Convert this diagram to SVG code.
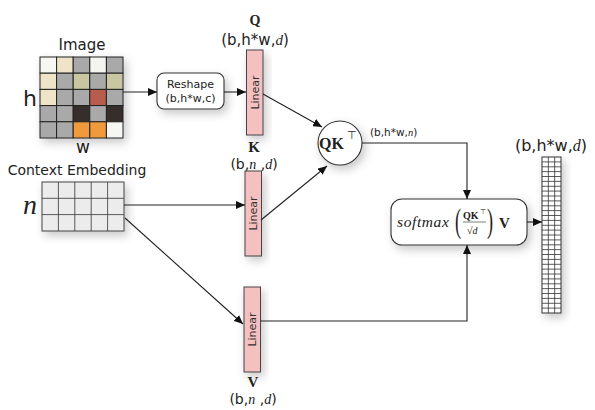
<svg xmlns="http://www.w3.org/2000/svg" width="595" height="410" viewBox="0 0 595 410">
<style>
.sans{font-family:"DejaVu Sans","Liberation Sans",sans-serif;fill:#222}
.serif{font-family:"Liberation Serif","DejaVu Serif",serif;fill:#222}
.it{font-style:italic}
.bold{font-weight:bold}
.bar{fill:#f4c0c0;stroke:#444;stroke-width:1}
.lin{font-family:"DejaVu Sans","Liberation Sans",sans-serif;font-size:11px;fill:#333}
.conn{fill:none;stroke:#222;stroke-width:1.1}
.box{fill:#fff;stroke:#333;stroke-width:1.1}
.grid{fill:none;stroke:#333;stroke-width:0.8}
</style>
<defs>
<marker id="ah" markerWidth="9" markerHeight="8" refX="9" refY="4" orient="auto" markerUnits="userSpaceOnUse">
<path d="M0,0 L9,4 L0,8 z" fill="#111"/>
</marker>
<filter id="sh" x="-50%" y="-50%" width="200%" height="200%">
<feDropShadow dx="3" dy="4" stdDeviation="5" flood-color="#000" flood-opacity="0.22"/>
</filter>
</defs>
<rect width="595" height="410" fill="#fff"/>

<g id="image">
<text class="sans" x="82" y="50" font-size="15" text-anchor="middle">Image</text>
<text class="sans" x="30" y="106" font-size="22" text-anchor="middle">h</text>
<text class="sans" x="83" y="153" font-size="17" text-anchor="middle">w</text>
<g filter="url(#sh)" stroke="#222" stroke-width="1">
<rect x="40" y="57" width="16.6" height="16.2" fill="#f6f6f3"/>
<rect x="56.6" y="57" width="16.6" height="16.2" fill="#efe4c8"/>
<rect x="73.2" y="57" width="16.6" height="16.2" fill="#a9a9a9"/>
<rect x="89.8" y="57" width="16.6" height="16.2" fill="#f4f4f1"/>
<rect x="106.4" y="57" width="16.6" height="16.2" fill="#a9a9a9"/>
<rect x="40" y="73.2" width="16.6" height="16.2" fill="#efe3c8"/>
<rect x="56.6" y="73.2" width="16.6" height="16.2" fill="#a9a9a9"/>
<rect x="73.2" y="73.2" width="16.6" height="16.2" fill="#c8c7a2"/>
<rect x="89.8" y="73.2" width="16.6" height="16.2" fill="#a9a9a9"/>
<rect x="106.4" y="73.2" width="16.6" height="16.2" fill="#c8c7a2"/>
<rect x="40" y="89.4" width="16.6" height="16.2" fill="#efe3c8"/>
<rect x="56.6" y="89.4" width="16.6" height="16.2" fill="#a9a9a9"/>
<rect x="73.2" y="89.4" width="16.6" height="16.2" fill="#a9a9a9"/>
<rect x="89.8" y="89.4" width="16.6" height="16.2" fill="#b85c4e"/>
<rect x="106.4" y="89.4" width="16.6" height="16.2" fill="#a9a9a9"/>
<rect x="40" y="105.6" width="16.6" height="16.2" fill="#a9a9a9"/>
<rect x="56.6" y="105.6" width="16.6" height="16.2" fill="#a9a9a9"/>
<rect x="73.2" y="105.6" width="16.6" height="16.2" fill="#342f29"/>
<rect x="89.8" y="105.6" width="16.6" height="16.2" fill="#a9a9a9"/>
<rect x="106.4" y="105.6" width="16.6" height="16.2" fill="#342f29"/>
<rect x="40" y="121.8" width="16.6" height="16.2" fill="#a9a9a9"/>
<rect x="56.6" y="121.8" width="16.6" height="16.2" fill="#a9a9a9"/>
<rect x="73.2" y="121.8" width="16.6" height="16.2" fill="#ee9a3c"/>
<rect x="89.8" y="121.8" width="16.6" height="16.2" fill="#ee9a3c"/>
<rect x="106.4" y="121.8" width="16.6" height="16.2" fill="#f6f6f3"/>
</g>
</g>

<g id="context">
<text class="sans" x="77" y="175" font-size="14" text-anchor="middle">Context Embedding</text>
<text class="serif it" x="30" y="214" font-size="28" text-anchor="middle">n</text>
<rect x="42" y="182" width="82" height="49" fill="#ececec" stroke="#444" stroke-width="1" filter="url(#sh)"/>
<path class="grid" stroke="#555" d="M58.4,182V231M74.8,182V231M91.2,182V231M107.6,182V231M42,198.3H124M42,214.6H124"/>
</g>

<g id="reshape">
<rect class="box" x="157" y="73" width="67" height="36" rx="7" filter="url(#sh)"/>
<text class="sans" x="190.5" y="88" font-size="11" text-anchor="middle" fill="#333">Reshape</text>
<text class="sans" x="190.5" y="102" font-size="11" text-anchor="middle" fill="#333">(b,h*w,c)</text>
</g>

<g id="linearQ">
<text class="serif bold" x="255" y="25" font-size="14" text-anchor="middle">Q</text>
<text class="sans" x="255" y="45" font-size="15" text-anchor="middle">(b,h*w,<tspan class="serif it">d</tspan>)</text>
<rect class="bar" x="246.5" y="50" width="16.5" height="85" filter="url(#sh)"/>
<text class="lin" transform="translate(258.5,92.5) rotate(-90)" text-anchor="middle">Linear</text>
</g>

<g id="linearK">
<text class="serif bold" x="254" y="152" font-size="15" text-anchor="middle">K</text>
<text class="sans" x="254" y="168.5" font-size="14" text-anchor="middle">(b,<tspan class="serif it">n</tspan> ,<tspan class="serif it">d</tspan>)</text>
<rect class="bar" x="245" y="171" width="16.5" height="85" filter="url(#sh)"/>
<text class="lin" transform="translate(257,213.5) rotate(-90)" text-anchor="middle">Linear</text>
</g>

<g id="linearV">
<rect class="bar" x="244" y="287" width="16.5" height="85" filter="url(#sh)"/>
<text class="lin" transform="translate(256,329.5) rotate(-90)" text-anchor="middle">Linear</text>
<text class="serif bold" x="253" y="387" font-size="15" text-anchor="middle">V</text>
<text class="sans" x="253" y="404" font-size="14" text-anchor="middle">(b,<tspan class="serif it">n</tspan> ,<tspan class="serif it">d</tspan>)</text>
</g>

<g id="qk">
<circle class="box" cx="340" cy="143" r="22" filter="url(#sh)"/>
<text class="serif bold" x="319" y="149" font-size="16">QK</text>
<text class="sans" x="347" y="139" font-size="11" fill="#444">⊤</text>
<text class="sans" x="370" y="136" font-size="10.5">(b,h*w,<tspan class="serif it">n</tspan>)</text>
</g>

<g id="softmax">
<rect class="box" x="391" y="199" width="136" height="46" rx="11" filter="url(#sh)"/>
<text class="serif it" x="397" y="227" font-size="15.5" letter-spacing="0.6" fill="#444">softmax</text>
<text class="serif" x="0" y="0" font-size="33" fill="#555" transform="translate(455,232) scale(0.55,1)">(</text>
<text class="serif bold" x="463" y="219" font-size="10">QK</text>
<text class="sans" x="480" y="214" font-size="7">⊤</text>
<line x1="463" y1="222" x2="486" y2="222" stroke="#444" stroke-width="0.7"/>
<text class="serif" x="467" y="234" font-size="10" fill="#444">√<tspan class="it">d</tspan></text>
<text class="serif" x="0" y="0" font-size="33" fill="#555" transform="translate(487,232) scale(0.55,1)">)</text>
<text class="serif bold" x="499" y="228" font-size="15">V</text>
</g>

<g id="output">
<text class="sans" x="551" y="151" font-size="16" text-anchor="middle">(b,h*w,<tspan class="serif it">d</tspan>)</text>
<rect x="542" y="157" width="19" height="156" fill="#fff" stroke="#333" stroke-width="1" filter="url(#sh)"/>
<path class="grid" d="M548.33,157V313M554.67,157V313M542,161.9H561M542,166.8H561M542,171.6H561M542,176.5H561M542,181.4H561M542,186.3H561M542,191.1H561M542,196H561M542,200.9H561M542,205.8H561M542,210.6H561M542,215.5H561M542,220.4H561M542,225.3H561M542,230.1H561M542,235H561M542,239.9H561M542,244.8H561M542,249.6H561M542,254.5H561M542,259.4H561M542,264.3H561M542,269.1H561M542,274H561M542,278.9H561M542,283.8H561M542,288.6H561M542,293.5H561M542,298.4H561M542,303.3H561M542,308.1H561"/>
</g>

<g id="connectors">
<line class="conn" x1="123" y1="92" x2="157" y2="92" marker-end="url(#ah)"/>
<line class="conn" x1="224" y1="92" x2="246" y2="92" marker-end="url(#ah)"/>
<line class="conn" x1="263" y1="94" x2="322" y2="127" marker-end="url(#ah)"/>
<line class="conn" x1="261" y1="220" x2="327" y2="166" marker-end="url(#ah)"/>
<line class="conn" x1="124" y1="205" x2="245" y2="205" marker-end="url(#ah)"/>
<line class="conn" x1="125" y1="218" x2="243" y2="324" marker-end="url(#ah)"/>
<path class="conn" d="M362,143H467V199" marker-end="url(#ah)"/>
<path class="conn" d="M260.5,321H467V245" marker-end="url(#ah)"/>
<line class="conn" x1="527" y1="222" x2="542" y2="222" marker-end="url(#ah)"/>
</g>
</svg>
